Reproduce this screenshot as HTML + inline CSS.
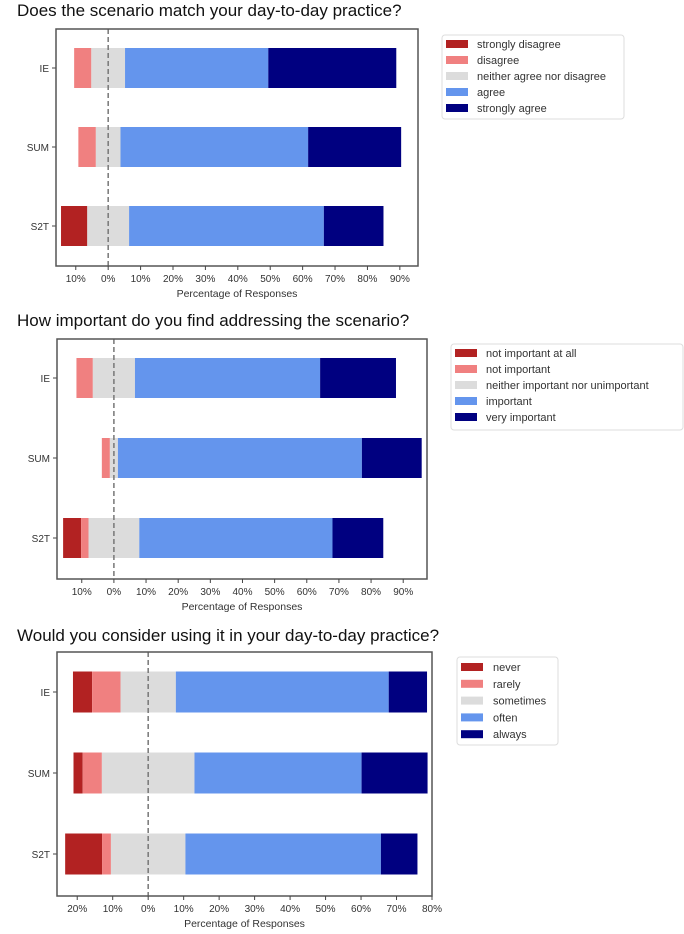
<!DOCTYPE html>
<html><head><meta charset="utf-8"><style>
html,body{margin:0;padding:0;background:#fff;}
svg{display:block;font-family:"Liberation Sans","DejaVu Sans",sans-serif;}
</style></head><body>
<svg id="c" width="684" height="934" viewBox="0 0 684 934" xmlns="http://www.w3.org/2000/svg"></svg>
<script>
const categories = ["IE","SUM","S2T"];
const colors = ["#b22222","#f08080","#dcdcdc","#6495ed","#000080"];

const titles = ["Does the scenario match your day-to-day practice?","How important do you find addressing the scenario?","Would you consider using it in your day-to-day practice?"];
const legend1 = ["strongly disagree","disagree","neither agree nor disagree","agree","strongly agree"];
const legend2 = ["not important at all","not important","neither important nor unimportant","important","very important"];
const legend3 = ["never","rarely","sometimes","often","always"];

// values per category: [neg2, neg1, neutral, pos1, pos2] in percent
const match_IE  = [0, 5.3, 10.4, 44.2, 39.5];
const match_SUM = [0, 5.4, 7.6, 57.9, 28.7];
const match_S2T = [8.1, 0, 12.9, 60.1, 18.4];

const imp_IE  = [0, 5.1, 13.1, 57.6, 23.6];
const imp_SUM = [0, 2.5, 2.5, 75.9, 18.6];
const imp_S2T = [5.6, 2.3, 15.8, 60.1, 15.8];

const use_IE  = [5.4, 8.0, 15.6, 60.0, 10.8];
const use_SUM = [2.6, 5.4, 26.1, 47.1, 18.6];
const use_S2T = [10.4, 2.5, 21.0, 55.1, 10.3];

const ticks1 = [-10,0,10,20,30,40,50,60,70,80,90];
const ticks2 = [-10,0,10,20,30,40,50,60,70,80,90];
const ticks3 = [-20,-10,0,10,20,30,40,50,60,70,80];

const NS="http://www.w3.org/2000/svg";
const svg=document.getElementById('c');
function mk(tag,attrs,parent){const e=document.createElementNS(NS,tag);for(const k in attrs)e.setAttribute(k,attrs[k]);(parent||svg).appendChild(e);return e;}

function chart(cfg){
  const g=mk('g',{});
  
  
  const t=mk('text',{x:17,y:cfg.titleY,'font-size':17,fill:'#111'},g);
  t.textContent=cfg.title;
  
  
  const x=v=>cfg.x0+(v-cfg.xmin)/(cfg.xmax-cfg.xmin)*(cfg.x1-cfg.x0);
  // bars
  cfg.rows.forEach((vals,i)=>{
    const yc=cfg.rowY[i];
    let start=-(vals[0]+vals[1]+vals[2]/2);
    vals.forEach((v,j)=>{
      if(v>0){
        const r=mk('rect',{x:x(start),y:yc-cfg.bh/2,width:x(start+v)-x(start),height:cfg.bh,fill:colors[j]},g);
        
        
      }
      start+=v;
    });
    mk('line',{x1:cfg.x0-4,x2:cfg.x0,y1:yc,y2:yc,stroke:'#444','stroke-width':1},g);
    const lb=mk('text',{x:cfg.x0-7,y:yc+4,'font-size':10,fill:'#333','text-anchor':'end'},g);
    lb.textContent=categories[i];
    
    
  });
  // zero line
  mk('line',{x1:x(0),x2:x(0),y1:cfg.y0,y2:cfg.y1,stroke:'#777','stroke-width':1.5,'stroke-dasharray':'5,3'},g);
  // frame
  const fr=mk('rect',{x:cfg.x0,y:cfg.y0,width:cfg.x1-cfg.x0,height:cfg.y1-cfg.y0,fill:'none',stroke:'#555','stroke-width':1.5},g);
  
  
  cfg.ticks.forEach(v=>{
    mk('line',{x1:x(v),x2:x(v),y1:cfg.y1,y2:cfg.y1+4,stroke:'#444'},g);
    const tl=mk('text',{x:x(v),y:cfg.y1+16,'font-size':10,fill:'#333','text-anchor':'middle'},g);
    tl.textContent=Math.abs(v)+'%';
    
    
  });
  const xl=mk('text',{x:(cfg.x0+cfg.x1)/2,y:cfg.y1+31,'font-size':10.5,fill:'#333','text-anchor':'middle'},g);
  xl.textContent='Percentage of Responses';
  
  
  // legend
  const L=cfg.leg;
  const lg=mk('g',{},g);
  
  
  mk('rect',{x:L.x,y:L.y,width:L.w,height:L.h,rx:3,fill:'#fff',stroke:'#ddd'},lg);
  cfg.labels.forEach((s,j)=>{
    const yy=L.ey+j*L.sp;
    mk('rect',{x:L.x+4,y:yy-4,width:22,height:8,fill:colors[j]},lg);
    const tx=mk('text',{x:L.tx,y:yy+4,'font-size':11,fill:'#333'},lg);
    tx.textContent=s;
    
    
  });
}

chart({name:'chart-match',title:titles[0],titleY:16,x0:56,x1:418,y0:29,y1:266,xmin:-16.1,xmax:95.6,
  rows:[match_IE,match_SUM,match_S2T],rowY:[68,147,226],bh:40,ticks:ticks1,labels:legend1,
  leg:{x:442,y:35,w:182,h:84,ey:44,sp:16,tx:477}});
chart({name:'chart-importance',title:titles[1],titleY:326,x0:57,x1:427,y0:339,y1:579,xmin:-17.7,xmax:97.4,
  rows:[imp_IE,imp_SUM,imp_S2T],rowY:[378,458,538],bh:40,ticks:ticks2,labels:legend2,
  leg:{x:451,y:344,w:232,h:86,ey:353,sp:16,tx:486}});
chart({name:'chart-usage',title:titles[2],titleY:641,x0:57,x1:432,y0:652,y1:896,xmin:-25.7,xmax:80,
  rows:[use_IE,use_SUM,use_S2T],rowY:[692,773,854],bh:41,ticks:ticks3,labels:legend3,
  leg:{x:457,y:657,w:101,h:88,ey:667,sp:16.8,tx:493}});
</script>
</body></html>
